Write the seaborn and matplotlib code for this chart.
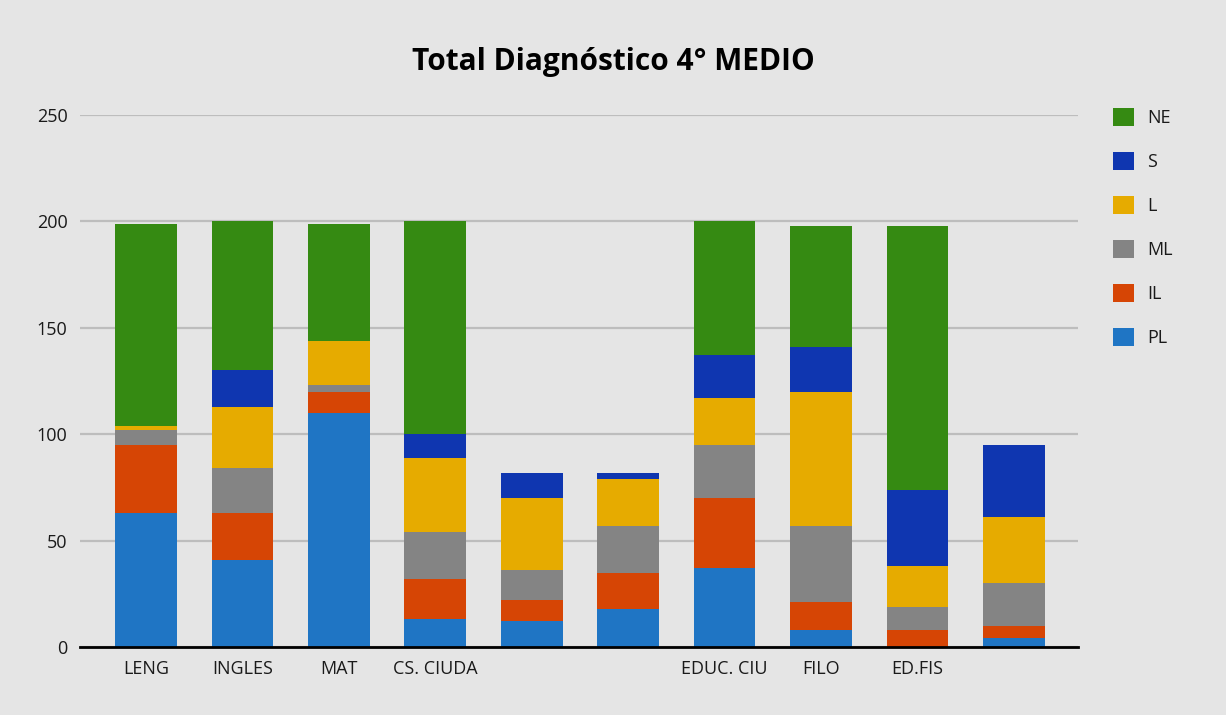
import matplotlib
matplotlib.use("Agg")
import matplotlib.pyplot as plt
from matplotlib.patches import Patch
import numpy as np
import pandas as pd
import seaborn as sns

sns.set_style("white")
plt.rcParams["font.family"] = ["Open Sans", "DejaVu Sans"]

# -- data
subjects = ["LENG", "INGLES", "MAT", "CS. CIUDA", "", "", "EDUC. CIU", "FILO", "ED.FIS", ""]
series = ["PL", "IL", "ML", "L", "S", "NE"]
pl = [63, 41, 110, 13, 12, 18, 37, 8, 0, 4]
il = [32, 22, 10, 19, 10, 17, 33, 13, 8, 6]
ml = [7, 21, 3, 22, 14, 22, 25, 36, 11, 20]
l_ = [2, 29, 21, 35, 34, 22, 22, 63, 19, 31]
s_ = [0, 17, 0, 11, 12, 3, 20, 21, 36, 34]
ne = [95, 70, 55, 100, 0, 0, 63, 57, 124, 0]

colors = {"NE": "#358a12", "S": "#0f36b0", "L": "#e6ab00",
          "ML": "#848484", "IL": "#d64505", "PL": "#1f75c4"}
bg = "#e5e5e5"

vals = pd.DataFrame({"PL": pl, "IL": il, "ML": ml, "L": l_, "S": s_, "NE": ne})
cum = vals[series].cumsum(axis=1)
cum["pos"] = np.arange(len(subjects))
long = cum.melt(id_vars="pos", var_name="serie", value_name="cum")

fig = plt.figure(figsize=(12.26, 7.15), dpi=100, facecolor=bg)
ax = fig.add_axes([80 / 1226, 68 / 715, 998 / 1226, 532 / 715], facecolor=bg)

# stacked look: draw cumulative totals from the top series down
for s in series[::-1]:
    sub = long[long["serie"] == s]
    sns.barplot(data=sub, x="pos", y="cum", color=colors[s], width=0.64,
                linewidth=0, saturation=1, ax=ax, zorder=2)

ax.set_ylim(0, 250)
ax.set_xlim(-0.685, 9.665)
ax.set_yticks([0, 50, 100, 150, 200, 250])
ax.yaxis.grid(True, color="#bdbdbd", linewidth=1.6, zorder=0)
ax.set_axisbelow(True)
ax.set_xticks(range(len(subjects)))
ax.set_xticklabels(subjects)
ax.tick_params(axis="both", length=0, labelsize=13, colors="#1a1a1a")
ax.tick_params(axis="y", pad=9)
ax.tick_params(axis="x", pad=9)
ax.set_xlabel("")
ax.set_ylabel("")
for side in ["top", "right", "left"]:
    ax.spines[side].set_visible(False)
ax.spines["bottom"].set_color("black")
ax.spines["bottom"].set_linewidth(2)
ax.spines["bottom"].set_zorder(5)

fig.text(0.5, 1 - 62 / 715, "Total Diagnóstico 4° MEDIO", ha="center", va="center",
         fontsize=21.5, fontweight="bold", color="black")

handles = [Patch(facecolor=colors[s], edgecolor="none", label=s) for s in series[::-1]]
fig.legend(handles=handles, loc="upper left", bbox_to_anchor=(1097 / 1226, 1 - 92 / 715),
           frameon=False, fontsize=13, handlelength=1.15, handleheight=1.15,
           handletextpad=0.75, labelspacing=1.38, labelcolor="#1a1a1a")

plt.savefig("out.png", dpi=100, facecolor=bg)
plt.close()
